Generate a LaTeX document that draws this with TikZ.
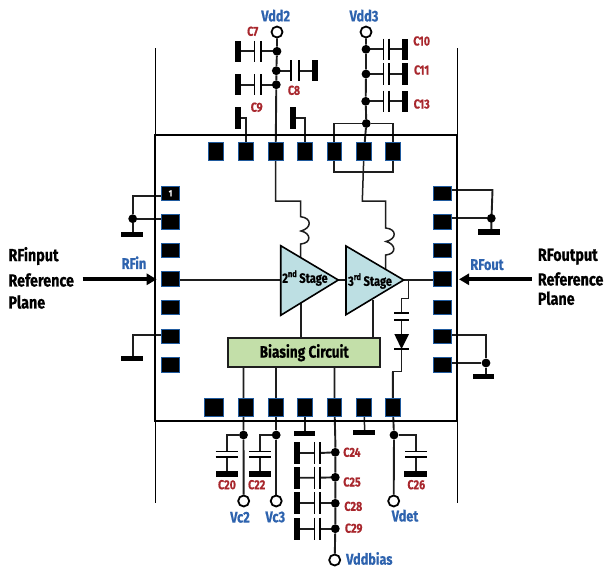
\documentclass[tikz,border=0pt]{standalone}
\usepackage{fontspec}
\setmainfont[FakeStretch=0.82,BoldFeatures={FakeBold=0.6}]{Fira Sans}
\usetikzlibrary{arrows.meta}
\pgfdeclarelayer{bg}
\pgfsetlayers{bg,main}
\definecolor{wirec}{HTML}{1E1E1E}
\definecolor{padb}{HTML}{1F5A9E}
\definecolor{lblue}{HTML}{2E63AE}
\definecolor{lred}{HTML}{A8272D}
\definecolor{tri}{HTML}{BDDFE3}
\definecolor{bias}{HTML}{C3DFA9}
\tikzset{
 padv/.style={draw=padb,fill=black,line width=.9pt,minimum width=14.5pt,minimum height=18pt,inner sep=0pt},
 padh/.style={draw=padb,fill=black,line width=.9pt,minimum width=18pt,minimum height=14.5pt,inner sep=0pt},
 wire/.style={draw=wirec,line width=1.9pt},
 thin wire/.style={draw=wirec,line width=1.1pt},
 dot/.style={circle,fill=black,minimum size=8.8pt,inner sep=0pt},
 term/.style={circle,draw=black,fill=white,line width=1.8pt,minimum size=11pt,inner sep=0pt},
 plate/.style={draw=black,line width=1.6pt},
 bl/.style={text=lblue,font=\bfseries\fontsize{15.5}{15}\selectfont,inner sep=0pt},
 rl/.style={text=lred,font=\bfseries\fontsize{13}{13}\selectfont,inner sep=0pt},
 kl/.style={text=black,font=\bfseries\fontsize{17.5}{17}\selectfont,inner sep=0pt,anchor=west},
 st/.style={text=black,font=\bfseries\fontsize{13.5}{14}\selectfont,inner sep=0pt},
 ramp/.style={draw=black,line width=1.6pt,fill=tri,line join=miter},
 bigarrow/.style={draw=black,line width=4pt,-{Triangle[length=10pt,width=11pt]}},
}
% horizontal capacitor: from dot #1 at y #2, plates at x #3,#4, bar centre x #5
\newcommand{\hcap}[6]{%
 \fill (#5-3,#2-#6) rectangle (#5+3,#2+#6);
 \draw[plate] (#3,#2-#6) -- (#3,#2+#6) (#4,#2-#6) -- (#4,#2+#6);
 \begin{pgfonlayer}{bg}\draw[wire] (#1.center) -- (#4,#2) (#3,#2) -- (#5,#2);\end{pgfonlayer}}
% vertical capacitor with ground bar
\newcommand{\vcap}[5]{%
 \draw[plate] (#2,451.3) -- (#3,451.3) (#2,457) -- (#3,457);
 \fill (#4,471) rectangle (#5,476.5);
 \begin{pgfonlayer}{bg}\draw[wire] ({(#2+#3)/2},457) -- ({(#2+#3)/2},474);\end{pgfonlayer}}
\begin{document}
\begin{tikzpicture}[x=1pt,y=-1pt]
\useasboundingbox (0,0) rectangle (605,568);
% package
\draw[black,line width=1.8pt] (155,135) rectangle (457,420.7);
\draw[black,line width=1pt] (155,48) -- (155,503) (457,48) -- (457,503);
% top pads
\node[padv,minimum width=15pt] (t1) at (216.3,151) {};
\node[padv] (t2) at (246,151) {};
\node[padv] (t3) at (275.7,151) {};
\node[padv] (t4) at (304.7,151) {};
\node[padv] (t5) at (334.3,151) {};
\node[padv] (t6) at (364,151) {};
\node[padv] (t7) at (393,151) {};
% bottom pads
\node[padv,minimum width=19pt] (b1) at (214,407) {};
\node[padv] (b2) at (246,407) {};
\node[padv] (b3) at (276,407) {};
\node[padv] (b4) at (305,407) {};
\node[padv] (b5) at (334.5,407) {};
\node[padv] (b6) at (364,407) {};
\node[padv] (b7) at (393,407) {};
% left pads
\node[padh,text=white,font=\bfseries\fontsize{9}{9}\selectfont] (l1) at (170.5,193.3) {1};
\node[padh] (l2) at (170.5,221.7) {};
\node[padh] (l3) at (170.5,250.3) {};
\node[padh] (l4) at (170.5,279) {};
\node[padh] (l5) at (170.5,307.3) {};
\node[padh] (l6) at (170.5,336.3) {};
\node[padh] (l7) at (170.5,364.7) {};
% right pads
\node[padh] (r1) at (442,193.3) {};
\node[padh] (r2) at (442,221.7) {};
\node[padh] (r3) at (442,250.3) {};
\node[padh] (r4) at (442,279) {};
\node[padh] (r5) at (442,307.3) {};
\node[padh] (r6) at (442,336.3) {};
\node[padh] (r7) at (442,364.7) {};
% amplifiers
\draw[ramp] (280.7,245.7) coordinate (a1t) -- (338.3,280) coordinate (a1o) -- (280.7,315.3) coordinate (a1b) -- cycle;
\draw[ramp] (346,246) coordinate (a2t) -- (403.7,280) coordinate (a2o) -- (346,314.7) coordinate (a2b) -- cycle;
\node[st] (s2) at (305,278) {2\raisebox{.8ex}{\fontsize{9}{9}\selectfont nd} Stage};
\node[st] (s3) at (370,281) {3\raisebox{.8ex}{\fontsize{9}{9}\selectfont rd} Stage};
\node[draw=wirec,fill=bias,line width=1.6pt,minimum width=152pt,minimum height=29pt,inner sep=0pt,font=\bfseries\fontsize{16.7}{17}\selectfont] (biasc) at (304.2,352.7) {Biasing Circuit};
% terminals
\node[term] (vdd2) at (277,32) {};
\node[term] (vdd3) at (366,32) {};
\node[term] (vc2) at (243.7,501) {};
\node[term] (vc3) at (276.2,501) {};
\node[term] (vdet) at (393.7,501) {};
\node[term] (vbias) at (334.7,560) {};
% dots
\node[dot] (d7) at (277,51.3) {};
\node[dot] (d8) at (276.3,70.7) {};
\node[dot] (d9) at (276.3,84.7) {};
\node[dot] (d10) at (366,49.3) {};
\node[dot] (d11) at (366,74) {};
\node[dot] (d13) at (365.7,101.3) {};
\node[dot] (dj) at (366.3,123.5) {};
\node[dot] (dc2) at (243.5,435) {};
\node[dot] (dc3) at (276.2,435) {};
\node[dot] (ddet) at (394,435) {};
\node[dot] (d24) at (335.3,452.3) {};
\node[dot] (d25) at (335.3,477.3) {};
\node[dot] (d28) at (335.3,503.3) {};
\node[dot] (d29) at (335.3,528.7) {};
\node[dot] (dl) at (132.7,218.7) {};
\node[dot] (drt) at (491.3,218.3) {};
\node[dot] (drb) at (486,363) {};
% capacitors
\hcap{d7}{51.3}{254.3}{261}{237.9}{10.5}
\hcap{d9}{84.7}{254.3}{261}{237.9}{10.5}
\hcap{d8}{70.7}{299}{291}{314.5}{10.5}
\hcap{d10}{49.3}{389}{383.3}{404.7}{10.8}
\hcap{d11}{74}{389}{383.3}{404.7}{10.8}
\hcap{d13}{101.3}{389}{383.3}{404.7}{10.8}
\hcap{d24}{453}{314.3}{320}{297}{11}
\hcap{d25}{477.7}{314.3}{320}{297}{11}
\hcap{d28}{503.3}{314.3}{320}{297}{11}
\hcap{d29}{528.7}{314.3}{320}{297}{11}
% open stubs
\fill (234.9,107.3) rectangle (240.7,128.7);
\fill (289.9,107.3) rectangle (295.7,128.7);
\fill (293.7,430.7) rectangle (315.3,436);
\fill (353,430) rectangle (375.3,435.3);
\fill (121,231.5) rectangle (142.7,237);
\fill (121,355.5) rectangle (142.7,361);
\fill (477.7,229.2) rectangle (500,234.8);
\fill (472.7,374) rectangle (494.3,379.4);
\coordinate (g1) at (237.7,117.7);
\coordinate (g2) at (292.7,117.7);
\coordinate (gb4) at (305,433);
\coordinate (gb6) at (364.7,432);
\coordinate (gl1) at (132.7,234);
\coordinate (gl6) at (132.7,358);
\coordinate (gr1) at (491.3,232);
\coordinate (gr6) at (486,376.5);
% caps to ground at the bottom
\vcap{dc2}{215.7}{237.7}{215.7}{237.7}
\vcap{dc3}{249}{271}{249}{271}
\vcap{ddet}{405}{427.3}{404.3}{427}
% detector
\draw[plate] (394.3,312.7) -- (409,312.7) (394.3,320) -- (409,320) (394.3,349) -- (409,349);
\fill (394.3,334) coordinate (dia) -- (409,334) -- (401.5,349) coordinate (dib) -- cycle;
\begin{pgfonlayer}{bg}
\draw[wire] (vdd2) -- (d7) -- (d8) -- (d9) -- (t3.center);
\draw[wire] (vdd3) -- (d10) -- (d11) -- (d13) -- (dj) -- (t6.center);
\draw[wire] (t5.center) -- (334.3,123.5) -- (dj) -- (393,123.5) -- (t7.center);
\draw[wire] (t5.center) -- (334.3,172.3) -- (393,172.3) -- (t7.center);
\draw[wire] (g1) -- (246,117.7) -- (t2.center);
\draw[wire] (g2) -- (304.7,117.7) -- (t4.center);
% supply feeds with inductors
\draw[wire,line width=1.5pt] (t3.center) -- (275.5,201) -- (300.7,201) -- (300.7,216.7)
  .. controls (312,218) and (312,228) .. (301,231) .. controls (311,233) and (312,243) .. (300.7,244) -- (300.7,258);
\draw[wire,line width=1.5pt] (t6.center) -- (362.3,201) -- (385.7,201) -- (385.7,228)
  .. controls (397,229) and (397,239) .. (386,241.5) .. controls (396,244) and (397,254) .. (385.7,255) -- (385.7,269);
% rf path
\draw[thin wire] (l4.center) -- (170.5,280) -- (280.7,280);
\draw[thin wire] (a1o) -- (346,280);
\draw[thin wire] (a2o) -- (442,280) -- (r4.center);
% bias
\draw[wire] (300.7,303) -- (300.7,338);
\draw[wire] (372.7,300) -- (372.7,338);
\draw[wire] (243.5,367) -- (dc2) -- (vc2);
\draw[wire] (276.2,367) -- (dc3) -- (vc3);
\draw[wire] (334.5,367) -- (b5.center) -- (335.3,440) -- (d24) -- (d25) -- (d28) -- (d29) -- (vbias);
\draw[wire] (392.8,372) -- (392.8,407) -- (ddet) -- (vdet);
\draw[wire] (dc2) -- (226.7,435) -- (226.7,451.3);
\draw[wire] (dc3) -- (260,435) -- (260,451.3);
\draw[wire] (ddet) -- (416.2,435) -- (416.2,451.3);
\draw[wire,line width=1.5pt] (b4.center) -- (gb4);
\draw[wire,line width=1.5pt] (b6.center) -- (gb6);
% detector wiring
\draw[wire,line width=1.5pt] (408.7,280) -- (408.7,298.7) -- (401.5,298.7) -- (401.5,312.7);
\draw[wire,line width=1.5pt] (401.5,320) -- (401.5,334);
\draw[wire,line width=1.5pt] (dib) -- (401.5,371.7) -- (392.8,371.7) -- (392.8,380);
% side grounds
\draw[wire] (l1.center) -- (170.5,196) -- (132.7,196) -- (dl) -- (gl1);
\draw[wire] (l2.center) -- (170.5,218.7) -- (dl);
\draw[wire] (l6.center) -- (170.5,335) -- (132.7,335) -- (gl6);
\draw[wire] (r1.center) -- (442,190) -- (492.5,190) -- (491.5,218.3) -- (gr1);
\draw[wire] (r2.center) -- (442,218.3) -- (drt);
\draw[wire] (r6.center) -- (442,335) -- (486,335) -- (drb) -- (gr6);
\draw[wire] (r7.center) -- (442,363) -- (drb);
\end{pgfonlayer}
% arrows
\coordinate (ainl) at (82.7,279.3);
\coordinate (ainr) at (156.7,279.3);
\coordinate (aoutl) at (531.7,279.3);
\coordinate (aoutr) at (459,279.3);
\draw[bigarrow] (ainl) -- (ainr);
\draw[bigarrow] (aoutl) -- (aoutr);
% labels
\node[bl] (tv2) at (275.7,15.7) {Vdd2};
\node[bl] (tv3) at (364,15.7) {Vdd3};
\node[bl] at (240,517.3) (tc2) {Vc2};
\node[bl] at (275.3,517) (tc3) {Vc3};
\node[bl] at (405,515.7) (tdet) {Vdet};
\node[bl] at (369.3,558.5) (tbias) {Vddbias};
\node[bl] at (134,262.7) (trin) {RFin};
\node[bl] at (487,264.7) (trout) {RFout};
\node[rl] at (252.7,31.3) (c7) {C7};
\node[rl] at (294,90.3) (c8) {C8};
\node[rl] at (256.7,107.3) (c9) {C9};
\node[rl] at (421.7,41) (c10) {C10};
\node[rl] at (421.7,70) (c11) {C11};
\node[rl] at (421.7,104) (c13) {C13};
\node[rl] at (352,452.3) (c24) {C24};
\node[rl] at (352,482) (c25) {C25};
\node[rl] at (353.3,506.3) (c28) {C28};
\node[rl] at (353.7,528.3) (c29) {C29};
\node[rl] at (227,484.7) (c20) {C20};
\node[rl] at (256.7,484.7) (c22) {C22};
\node[rl] at (416.3,484.7) (c26) {C26};
\node[kl] at (8.3,256) (li1) {RFinput};
\node[kl] at (8.3,280) (li2) {Reference};
\node[kl] at (8.3,302) (li3) {Plane};
\node[kl] at (537.7,256.7) (ro1) {RFoutput};
\node[kl] at (537.7,279) (ro2) {Reference};
\node[kl] at (537.7,298.3) (ro3) {Plane};
\end{tikzpicture}
\end{document}
